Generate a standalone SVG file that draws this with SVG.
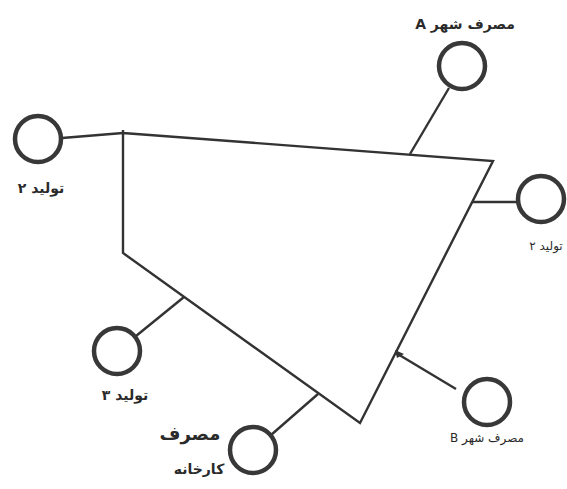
<svg xmlns="http://www.w3.org/2000/svg" width="567" height="489" viewBox="0 0 567 489">
<style>
.bg{fill:#ffffff}
.pipe{fill:none;stroke:#333333;stroke-width:2.4;stroke-linejoin:miter;stroke-linecap:butt}
.node{fill:none;stroke:#383838;stroke-width:4.5}
.lbl{font-family:"DejaVu Sans","Noto Sans",sans-serif;font-size:14px;font-weight:bold;fill:#2a2a2a;text-anchor:middle}
.sm{font-size:12px;font-weight:normal}
.big{font-size:18px}
</style>
<rect class="bg" x="0" y="0" width="567" height="489"/>
<g id="connectors">
<path class="pipe" d="M123,130 L123,253 L360,423 L493,161 L123,133"/>
<line class="pipe" x1="62" y1="138" x2="123" y2="133"/>
<line class="pipe" x1="410" y1="154" x2="449" y2="88"/>
<line class="pipe" x1="472" y1="202" x2="517" y2="202"/>
<line class="pipe" x1="396" y1="353" x2="456" y2="389"/>
<line class="pipe" x1="184" y1="297" x2="136" y2="336"/>
<line class="pipe" x1="318" y1="394" x2="271" y2="435"/>
<polygon points="395,350 404,354 397,358" fill="#333333"/>
</g>
<g id="node-cityA">
<circle class="node" cx="462" cy="66" r="23"/>
<text class="lbl" x="465" y="29" direction="rtl">&#x202B;مصرف شهر A&#x202C;</text>
</g>
<g id="node-prod2-left">
<circle class="node" cx="38" cy="139" r="23"/>
<text class="lbl" x="41" y="193" direction="rtl">&#x202B;تولید ۲&#x202C;</text>
</g>
<g id="node-prod2-right">
<circle class="node" cx="541" cy="199" r="23"/>
<text class="lbl sm" x="546" y="250" direction="rtl">&#x202B;تولید ۲&#x202C;</text>
</g>
<g id="node-prod3">
<circle class="node" cx="117" cy="351" r="23"/>
<text class="lbl" x="125" y="400" direction="rtl">&#x202B;تولید ۳&#x202C;</text>
</g>
<g id="node-factory">
<circle class="node" cx="253" cy="450" r="23"/>
<text class="lbl big" x="190" y="440" direction="rtl">مصرف</text>
<text class="lbl" x="199" y="474" direction="rtl">کارخانه</text>
</g>
<g id="node-cityB">
<circle class="node" cx="487" cy="402" r="23"/>
<text class="lbl sm" x="487" y="442" direction="rtl">&#x202B;مصرف شهر B&#x202C;</text>
</g>
</svg>
